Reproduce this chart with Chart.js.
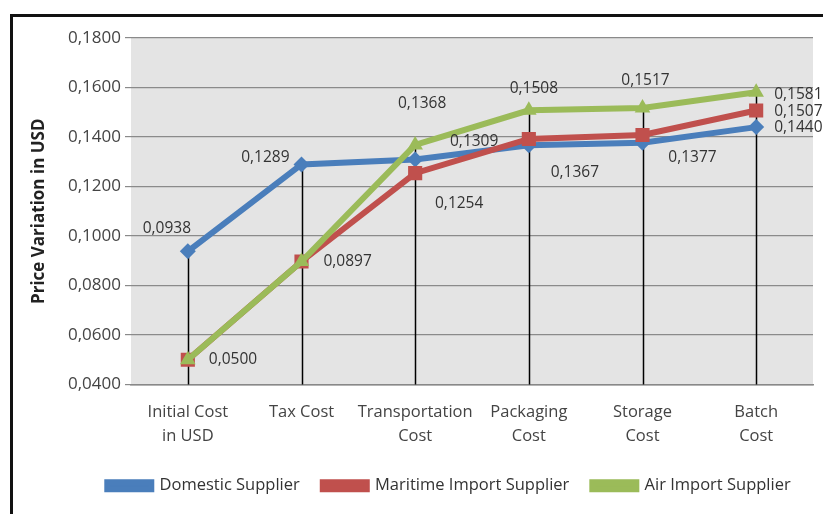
<!DOCTYPE html>
<html>
<head>
<meta charset="utf-8">
<script src="https://cdn.jsdelivr.net/npm/chart.js@4"></script>
<style>
  html, body { margin: 0; padding: 0; background: #fff; }
  #wrap { position: absolute; left: 0; top: 0; width: 823px; height: 514px; }
  #frame { position: absolute; left: 10px; top: 14px; width: 813px; height: 500px;
    border-top: 3px solid #111; border-left: 3px solid #111; box-sizing: border-box; pointer-events: none; }
</style>
</head>
<body>
<div id="wrap"><canvas id="canvas" width="823" height="514"></canvas></div>
<div id="frame"></div>
<script>
const categories = [
  ["Initial Cost", "in USD"],
  "Tax Cost",
  ["Transportation", "Cost"],
  ["Packaging", "Cost"],
  ["Storage", "Cost"],
  ["Batch", "Cost"],
];
const domestic = [0.0938, 0.1289, 0.1309, 0.1367, 0.1377, 0.144];
const maritime = [0.05, 0.0897, 0.1254, 0.1392, 0.1408, 0.1507];
const air = [0.05, 0.0897, 0.1368, 0.1508, 0.1517, 0.1581];
const yTicks = [0.04, 0.06, 0.08, 0.1, 0.12, 0.14, 0.16, 0.18];

const BLUE = "#4a7ebb";
const RED = "#c0504d";
const GREEN = "#9bbb59";
const FONT = "'Open Sans', sans-serif";

// which points carry a value label, and where the text sits relative to the point
// [dx, dy, align]
const labelPlacement = [
  [[-21, -23, "center"], [-12, -7, "right"], [59, -18, "center"], [46, 27, "center"], [50, 15, "center"], [18, 0, "left"]],
  [[21, 0, "left"], [22, 0, "left"], [44, 30, "center"], null, null, [18, 1, "left"]],
  [null, null, [7, -41, "center"], [5, -22, "center"], [3, -27, "center"], [18, 2, "left"]],
];

const fmt = (v) => v.toFixed(4).replace(".", ",");

const chartDecor = {
  id: "chartDecor",
  afterLayout(chart) {
    // the legend in the original sits a bit right of the canvas centre
    chart.legend.left += 35;
    chart.legend.right += 35;
  },
  beforeDraw(chart) {
    const { ctx, chartArea: a } = chart;
    ctx.save();
    ctx.fillStyle = "#e4e4e4";
    ctx.fillRect(a.left, a.top, a.right - a.left, a.bottom - a.top);
    ctx.restore();
  },
  beforeDatasetsDraw(chart) {
    // drop lines from the highest point down to the axis
    const { ctx, chartArea: a, scales } = chart;
    ctx.save();
    ctx.strokeStyle = "#000";
    ctx.lineWidth = 1.5;
    categories.forEach((c, i) => {
      const top = Math.max(domestic[i], maritime[i], air[i]);
      const x = Math.round(scales.x.getPixelForValue(i)) + 0.5;
      ctx.beginPath();
      ctx.moveTo(x, scales.y.getPixelForValue(top));
      ctx.lineTo(x, a.bottom);
      ctx.stroke();
    });
    ctx.restore();
  },
  afterDatasetsDraw(chart) {
    const { ctx, scales } = chart;
    const series = [domestic, maritime, air];
    ctx.save();
    ctx.font = "15.5px " + FONT;
    ctx.fillStyle = "#333";
    ctx.textBaseline = "middle";
    series.forEach((vals, d) => {
      vals.forEach((v, i) => {
        const p = labelPlacement[d][i];
        if (!p) return;
        ctx.textAlign = p[2];
        ctx.fillText(fmt(v), scales.x.getPixelForValue(i) + p[0], scales.y.getPixelForValue(v) + p[1]);
      });
    });
    ctx.restore();
  },
};

new Chart(document.getElementById("canvas"), {
  type: "line",
  data: {
    labels: categories,
    datasets: [
      { label: "Domestic Supplier", data: domestic, borderColor: BLUE, backgroundColor: BLUE,
        pointStyle: "rectRot", pointRadius: 8, order: 2 },
      { label: "Maritime Import Supplier", data: maritime, borderColor: RED, backgroundColor: RED,
        pointStyle: "rect", pointRadius: 10, order: 1 },
      { label: "Air Import Supplier", data: air, borderColor: GREEN, backgroundColor: GREEN,
        pointStyle: "triangle", pointRadius: 9, order: 0 },
    ],
  },
  options: {
    responsive: false,
    animation: false,
    layout: { padding: { left: 10, right: 5, top: 38, bottom: 10 } },
    elements: {
      line: { borderWidth: 6, tension: 0 },
      point: { borderWidth: 0, hoverRadius: 8 },
    },
    scales: {
      x: {
        offset: true,
        grid: { display: false },
        border: { display: true, color: "#888", width: 1.5 },
        ticks: { color: "#444", font: { family: FONT, size: 16.5, lineHeight: 1.5 }, maxRotation: 0, autoSkip: false, padding: 7 },
        afterFit: (s) => { s.height = 70; },
      },
      y: {
        min: 0.04,
        max: 0.18,
        afterBuildTicks: (s) => { s.ticks = yTicks.map((v) => ({ value: v })); },
        grid: { color: "#8a8a8a", lineWidth: 1.2, tickLength: 6 },
        border: { display: false },
        ticks: { color: "#444", font: { family: FONT, size: 17 }, callback: (v) => fmt(v), padding: 4 },
        title: { display: true, text: "Price Variation in USD", color: "#222",
          font: { family: FONT, size: 17, weight: "bold" }, padding: { top: 19, bottom: 0 } },
        afterFit: (s) => { s.width = 121; },
      },
    },
    plugins: {
      legend: {
        position: "bottom",
        labels: { boxWidth: 44, boxHeight: 7, color: "#333", font: { family: FONT, size: 16.5 }, padding: 23,
          sort: (a, b) => a.datasetIndex - b.datasetIndex },
      },
      tooltip: { enabled: false },
    },
  },
  plugins: [chartDecor],
});
</script>
</body>
</html>
